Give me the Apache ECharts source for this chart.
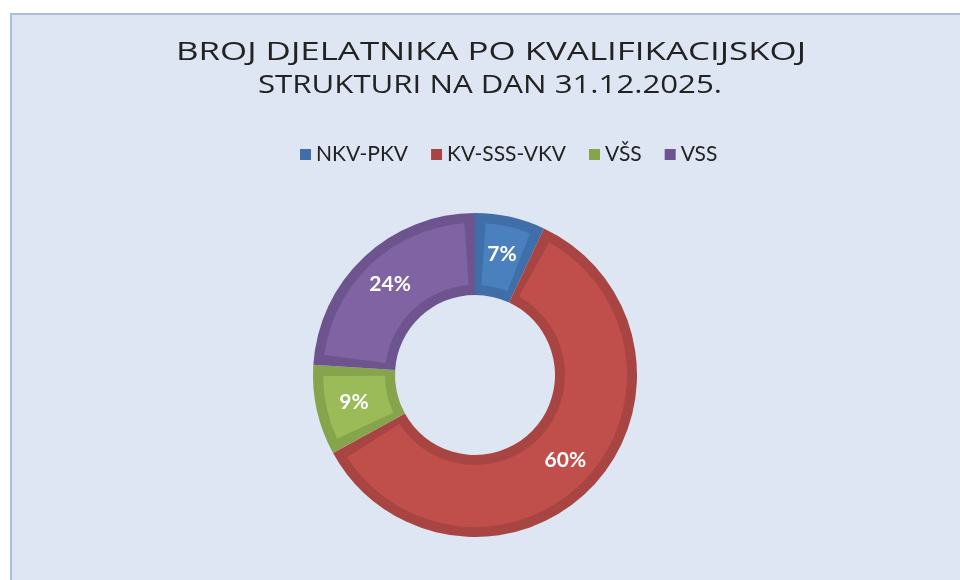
<!DOCTYPE html>
<html>
<head>
<meta charset="utf-8">
<script src="https://cdn.jsdelivr.net/npm/echarts@6/dist/echarts.min.js"></script>
<style>
  html, body { margin: 0; padding: 0; background: #fff; }
  #chart { width: 960px; height: 580px; }
</style>
</head>
<body>
<div id="chart"></div>
<script>
// kategorije i udjeli (%)
var titleLines = ['BROJ DJELATNIKA PO KVALIFIKACIJSKOJ', 'STRUKTURI NA DAN 31.12.2025.'];
var categories = ['NKV-PKV', 'KV-SSS-VKV', 'VŠS', 'VSS'];
var shares = [7, 60, 9, 24];
var lightColors = ['#4b80bf', '#c04f4c', '#9abb58', '#8063a2'];
var darkColors = ['#3f6ea8', '#a84441', '#86a44b', '#6d548f'];

var TITLE_FONT = '400 26px "Open Sans"';

/** širina teksta naslova - za razvlačenje kao u originalu **/
function textWidth(txt, font) {
    var ctx = document.createElement('canvas').getContext('2d');
    ctx.font = font;
    return ctx.measureText(txt).width;
}

function buildData(colors) {
    var arr = [];
    for (var i = 0; i < categories.length; i++) {
        arr.push({
            name: categories[i],
            value: shares[i],
            itemStyle: { color: colors[i] }
        });
    }
    return arr;
}

function titleText(txt, x, y, targetWidth) {
    return {
        type: 'text',
        x: x, y: y,
        scaleX: targetWidth / textWidth(txt, TITLE_FONT),
        style: {
            text: txt,
            font: TITLE_FONT,
            fill: '#222222',
            align: 'center',
            verticalAlign: 'middle'
        }
    };
}

var myChart = echarts.init(document.getElementById('chart'));

var option = {
    backgroundColor: '#ffffff',
    animation: false,
    color: lightColors,
    graphic: [
        {
            type: 'rect',
            z: -10,
            shape: { x: 11, y: 14, width: 970, height: 590 },
            style: { fill: '#dfe6f3', stroke: '#a9bfdc', lineWidth: 2 }
        },
        titleText(titleLines[0], 491, 53, 630),
        titleText(titleLines[1], 490, 86, 464)
    ],
    legend: {
        data: categories,
        left: 295,
        top: 139,
        icon: 'rect',
        itemWidth: 11,
        itemHeight: 11,
        itemGap: 23,
        textStyle: {
            fontFamily: 'Lato',
            fontSize: 21,
            color: '#222'
        }
    },
    series: [
        {
            // tamni rub (bevel)
            name: 'rub',
            type: 'pie',
            center: [475, 375],
            radius: [80, 162],
            startAngle: 90,
            clockwise: true,
            silent: true,
            label: { show: false },
            labelLine: { show: false },
            data: buildData(darkColors)
        },
        {
            name: 'Kvalifikacijska struktura',
            type: 'pie',
            center: [475, 375],
            radius: [90, 152],
            startAngle: 90,
            clockwise: true,
            padAngle: 8,
            label: {
                show: true,
                position: 'inside',
                formatter: '{c}%',
                color: '#ffffff',
                fontFamily: 'Lato',
                fontWeight: 'bold',
                fontSize: 21
            },
            labelLine: { show: false },
            data: buildData(lightColors)
        }
    ]
};

myChart.setOption(option);
</script>
</body>
</html>
